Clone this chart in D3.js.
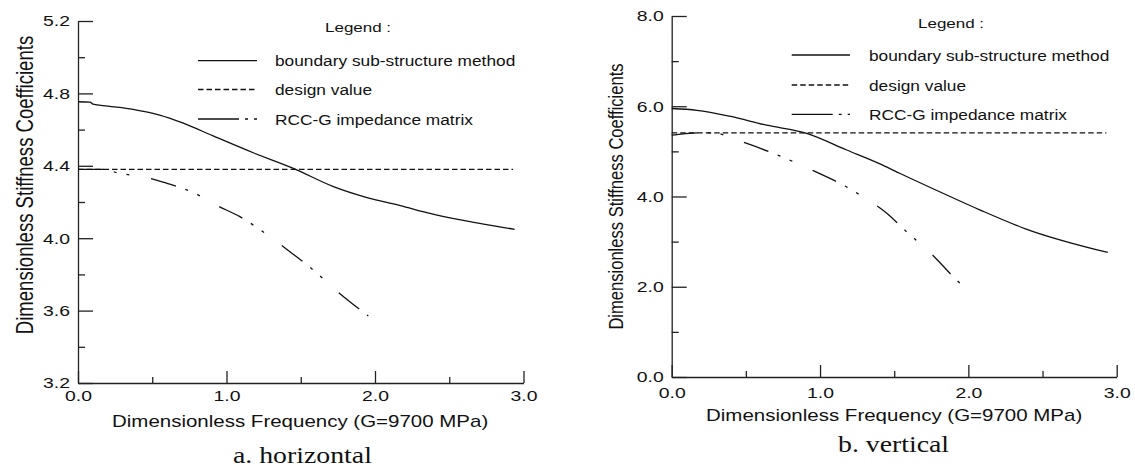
<!DOCTYPE html>
<html>
<head>
<meta charset="utf-8">
<script src="https://cdn.jsdelivr.net/npm/d3@7"></script>
<style>
  body { margin: 0; background: #fff; }
  svg text { font-family: "Liberation Sans", Arial, sans-serif; fill: #111; }
  .caption { font-family: "Liberation Serif", "Times New Roman", serif; }
</style>
</head>
<body>
<svg id="chart" width="1135" height="466"></svg>
<script>
// values: dimensionless frequency -> stiffness coefficient

// a. horizontal
var hBoundaryF = [0, 0.08, 0.1, 0.2, 0.37, 0.55, 0.7, 0.91, 1.18, 1.45, 1.72, 1.94, 2.17, 2.37, 2.94];
var hBoundaryV = [4.754, 4.752, 4.741, 4.73, 4.712, 4.68, 4.638, 4.565, 4.472, 4.386, 4.285, 4.226, 4.18, 4.137, 4.049];
var hRccF = [0, 0.17, 0.28, 0.44, 0.6, 0.78, 0.93, 1.09, 1.315, 1.44, 1.57, 1.76, 1.955];
var hRccV = [4.38, 4.38, 4.358, 4.34, 4.303, 4.251, 4.183, 4.119, 3.994, 3.917, 3.834, 3.696, 3.57];
var hDesign = 4.38;

// b. vertical
var vBoundaryF = [0, 0.17, 0.39, 0.64, 0.91, 1.18, 1.4, 1.54, 1.81, 2.08, 2.38, 2.94];
var vBoundaryV = [5.95, 5.91, 5.78, 5.58, 5.4, 5.03, 4.73, 4.51, 4.1, 3.7, 3.29, 2.76];
var vRccF = [0, 0.08, 0.17, 0.28, 0.44, 0.69, 0.95, 1.18, 1.3, 1.45, 1.57, 1.76, 1.92, 1.99];
var vRccV = [5.36, 5.39, 5.41, 5.41, 5.25, 4.95, 4.58, 4.21, 3.97, 3.63, 3.26, 2.7, 2.15, 1.94];
var vDesign = 5.41;

var designF = [0, 2.93];

var seriesNames = ['boundary sub-structure method', 'design value', 'RCC-G impedance matrix'];
var xTicks = [0, 1, 2, 3];
var xMinor = [0.5, 1.5, 2.5];
var hTicks = [3.2, 3.6, 4.0, 4.4, 4.8, 5.2];
var hMinor = [3.4, 3.8, 4.2, 4.6, 5.0];
var vTicks = [0, 2, 4, 6, 8];
var vMinor = [1, 3, 5, 7];
var xTitle = 'Dimensionless Frequency (G=9700 MPa)';
var yTitle = 'Dimensionless Stiffness Coefficients';
var captions = ['a. horizontal', 'b. vertical'];

var svg = d3.select('#chart');
var fmt = d3.format('.1f');

// the scanned figure is squashed vertically, text included
var squash = 'scale(1,0.8)';
var rccDash = '26,10,3,10,3,22';
var designDash = '5.5,3';

function label(g, x, y, size, str) {
  return g.append('text')
    .attr('transform', 'translate(' + x + ',' + y + ') ' + squash)
    .attr('font-size', size).text(str);
}

function drawPanel(p) {
  var x = d3.scaleLinear().domain([0, 3]).range([p.left, p.right]);
  var y = d3.scaleLinear().domain(p.yDomain).range([p.bottom, p.top]);
  var g = svg.append('g');

  // y axis, ticks pointing inward
  var ya = g.append('g').attr('transform', 'translate(' + p.left + ',0)')
    .call(d3.axisLeft(y).tickValues(p.yTicks).tickSizeInner(-15).tickSizeOuter(0).tickPadding(8).tickFormat(fmt));
  g.append('g').attr('transform', 'translate(' + p.left + ',0)')
    .call(d3.axisLeft(y).tickValues(p.yMinor).tickSizeInner(-7).tickSizeOuter(0).tickFormat(''))
    .select('.domain').remove();

  var xa = g.append('g').attr('transform', 'translate(0,' + p.bottom + ')')
    .call(d3.axisBottom(x).tickValues(xTicks).tickSizeInner(-12).tickSizeOuter(0).tickPadding(p.xPad).tickFormat(fmt));
  g.append('g').attr('transform', 'translate(0,' + p.bottom + ')')
    .call(d3.axisBottom(x).tickValues(xMinor).tickSizeInner(-6).tickSizeOuter(0).tickFormat(''))
    .select('.domain').remove();

  g.selectAll('.domain, .tick line').attr('stroke', '#222').attr('stroke-width', 1.3);
  [ya, xa].forEach(function (a) {
    a.selectAll('text').attr('font-size', 19.4).attr('fill', '#111')
      .attr('font-family', '"Liberation Sans", Arial, sans-serif')
      .attr('transform', squash);
  });

  var line = d3.line()
    .x(function (d) { return x(d[0]); })
    .y(function (d) { return y(d[1]); })
    .curve(d3.curveMonotoneX);

  var boundary = d3.zip(p.boundaryF, p.boundaryV);
  var design = designF.map(function (f) { return [f, p.design]; });
  var rcc = d3.zip(p.rccF, p.rccV);

  g.append('path').attr('d', line(design)).attr('fill', 'none')
    .attr('stroke', '#111').attr('stroke-width', 1.2).attr('stroke-dasharray', designDash);
  g.append('path').attr('d', line(rcc)).attr('fill', 'none')
    .attr('stroke', '#111').attr('stroke-width', 1.3).attr('stroke-dasharray', rccDash);
  g.append('path').attr('d', line(boundary)).attr('fill', 'none')
    .attr('stroke', '#111').attr('stroke-width', 1.3);

  // legend
  var lg = p.legend;
  label(g, lg.headX, lg.headY, 17, 'Legend :');
  var dashes = [null, designDash, '41,6,3,6,3,10'];
  seriesNames.forEach(function (name, i) {
    var ly = lg.rows[i];
    g.append('line').attr('x1', lg.x0).attr('x2', lg.x1).attr('y1', ly).attr('y2', ly)
      .attr('stroke', '#111').attr('stroke-width', 1.3)
      .attr('stroke-dasharray', dashes[i]);
    label(g, lg.textX, ly + lg.textDy, 17.3, name);
  });

  // titles
  label(g, p.xTitleX, p.xTitleY, 20.5, xTitle);
  g.append('text')
    .attr('transform', 'translate(' + p.yTitleX + ',' + p.yTitleY + ') rotate(-90) scale(0.8,1)')
    .attr('text-anchor', 'middle').attr('font-size', p.yTitleSize).text(yTitle);
  label(g, p.capX, p.capY, 27.8, p.caption).attr('class', 'caption');
}

drawPanel({
  left: 78, right: 523.5, top: 21, bottom: 383,
  yDomain: [3.2, 5.2], yTicks: hTicks, yMinor: hMinor, xPad: 9,
  boundaryF: hBoundaryF, boundaryV: hBoundaryV, rccF: hRccF, rccV: hRccV, design: hDesign,
  legend: { headX: 325, headY: 32, x0: 198, x1: 257, rows: [60.7, 89.5, 119], textX: 275, textDy: 5.5 },
  xTitleX: 112, xTitleY: 427, yTitleX: 33, yTitleY: 185, yTitleSize: 23.2,
  capX: 233, capY: 463, caption: captions[0]
});

drawPanel({
  left: 671.7, right: 1116.7, top: 16, bottom: 377,
  yDomain: [0, 8], yTicks: vTicks, yMinor: vMinor, xPad: 12,
  boundaryF: vBoundaryF, boundaryV: vBoundaryV, rccF: vRccF, rccV: vRccV, design: vDesign,
  legend: { headX: 918, headY: 28, x0: 791.7, x1: 850, rows: [55, 85, 114.3], textX: 869, textDy: 6 },
  xTitleX: 706, xTitleY: 421, yTitleX: 623, yTitleY: 196.5, yTitleSize: 20.7,
  capX: 838, capY: 452, caption: captions[1]
});
</script>
</body>
</html>
